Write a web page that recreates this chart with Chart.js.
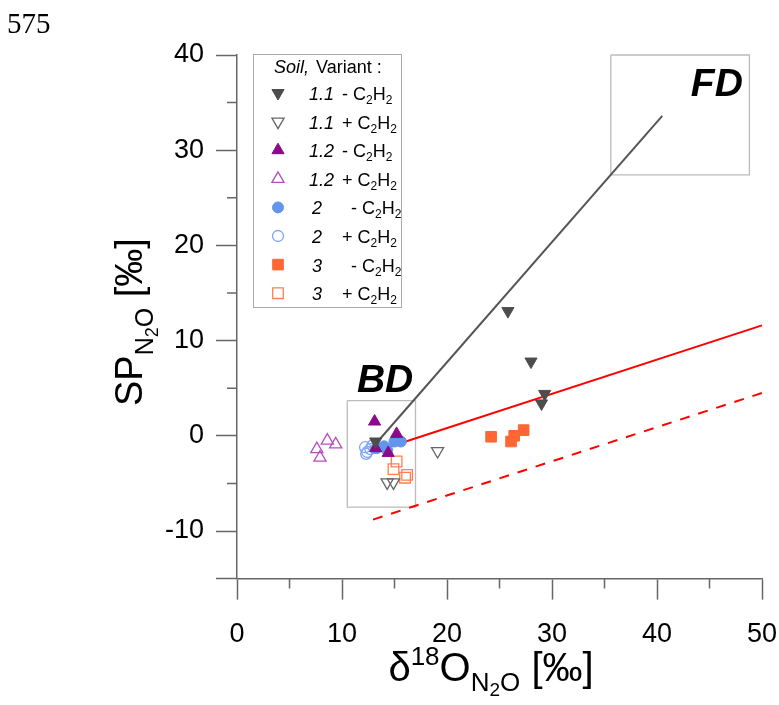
<!DOCTYPE html>
<html>
<head>
<meta charset="utf-8">
<script src="https://cdn.jsdelivr.net/npm/chart.js@4.4.1/dist/chart.umd.min.js"></script>
<style>
  html, body { margin: 0; padding: 0; background: #fff; }
</style>
</head>
<body>
<canvas id="isoChart" width="779" height="705"></canvas>
<script>
// delta18O-N2O (x) vs SP-N2O (y), one array per soil / variant
const s11Minus = [[25.8, 13.1], [28.0, 7.8], [29.3, 4.4], [29.0, 3.4], [13.2, -0.6]];
const s11Plus = [[19.1, -1.6], [14.3, -4.9], [14.9, -4.9]];
const s12Minus = [[13.1, 1.5], [15.2, 0.2], [13.2, -1.3], [14.4, -1.8]];
const s12Plus = [[8.6, -0.5], [9.4, -0.9], [7.6, -1.4], [7.9, -2.3]];
const s2Minus = [[15.0, -0.6], [15.6, -0.6], [13.3, -1.3], [14.3, -1.5], [14.0, -1.1]];
const s2Plus = [[12.2, -1.2], [12.4, -1.7], [12.7, -1.4], [12.9, -1.0], [12.3, -1.9]];
const s3Minus = [[24.2, -0.1], [26.1, -0.6], [26.4, 0.0], [27.3, 0.6]];
const s3Plus = [[15.2, -2.7], [14.9, -3.5], [16.2, -4.1], [16.0, -4.4]];

// reference lines and end-member boxes
const fdLine = [[13.4, -0.6], [40.5, 33.6]];
const redLine = [[14.1, -1.3], [50, 11.6]];
const redDashed = [[12.95, -8.8], [50, 4.5]];
const bdBox = [[10.5, 3.7], [17.0, 3.7], [17.0, -7.5], [10.5, -7.5], [10.5, 3.7]];
const fdBox = [[35.6, 40.0], [48.8, 40.0], [48.8, 27.4], [35.6, 27.4], [35.6, 40.0]];
const boxLabels = ['BD', 'FD'];
const boxLabelPos = [[14.1, 4.6], [45.7, 35.7]];

const soilNames = ['1.1', '1.1', '1.2', '1.2', '2', '2', '3', '3'];
const variantSigns = ['-', '+', '-', '+', '-', '+', '-', '+'];

const xTicks = [0, 10, 20, 30, 40, 50];
const yTicks = [-10, 0, 10, 20, 30, 40];

const FONT = '"Liberation Sans", Arial, Helvetica, sans-serif';
const axisColor = '#666';
const pts = arr => arr.map(([x, y]) => ({ x, y }));

function markerSet(label, data, shape, color, filled, rot) {
  return {
    label, data: pts(data),
    pointStyle: shape,
    pointRotation: rot || 0,
    pointRadius: shape === 'circle' ? 5.5 : (shape === 'rect' ? 7.5 : 7),
    pointBorderWidth: filled ? 1 : 1.3,
    borderColor: color,
    pointBorderColor: color,
    backgroundColor: filled ? color : 'rgba(0,0,0,0)',
    pointBackgroundColor: filled ? color : 'rgba(0,0,0,0)',
    showLine: false
  };
}
function lineSet(data, color, width, dash) {
  return {
    data: pts(data), showLine: true, pointRadius: 0,
    borderColor: color, borderWidth: width, borderDash: dash || [],
    fill: false, clip: false
  };
}

const markerSets = [
  markerSet('1.1 -', s11Minus, 'triangle', '#4d4d4d', true, 180),
  markerSet('1.1 +', s11Plus, 'triangle', '#666', false, 180),
  markerSet('1.2 -', s12Minus, 'triangle', '#8a0a8a', true, 0),
  markerSet('1.2 +', s12Plus, 'triangle', '#b54fbf', false, 0),
  markerSet('2 -', s2Minus, 'circle', '#6495ed', true, 0),
  markerSet('2 +', s2Plus, 'circle', '#7ea7f2', false, 0),
  markerSet('3 -', s3Minus, 'rect', '#ff6633', true, 0),
  markerSet('3 +', s3Plus, 'rect', '#ff7f50', false, 0)
];

// draw a run of text pieces (for sub/superscripts)
function drawRuns(ctx, runs, x, y, measureOnly) {
  let w = 0;
  runs.forEach(r => {
    ctx.font = (r.style || '') + ' ' + r.size + 'px ' + (r.family || FONT);
    if (!measureOnly) ctx.fillText(r.t, x + w, y + (r.dy || 0));
    w += ctx.measureText(r.t).width;
  });
  return w;
}

function drawMarker(ctx, ds, x, y) {
  const r = ds.pointRadius;
  ctx.save();
  ctx.translate(x, y);
  ctx.rotate(ds.pointRotation * Math.PI / 180);
  ctx.beginPath();
  if (ds.pointStyle === 'circle') {
    ctx.arc(0, 0, r, 0, Math.PI * 2);
  } else if (ds.pointStyle === 'rect') {
    const s = Math.SQRT1_2 * r;
    ctx.rect(-s, -s, 2 * s, 2 * s);
  } else {
    ctx.moveTo(0, -r);
    ctx.lineTo(0.866 * r, 0.5 * r);
    ctx.lineTo(-0.866 * r, 0.5 * r);
    ctx.closePath();
  }
  ctx.fillStyle = ds.pointBackgroundColor;
  ctx.fill();
  ctx.lineWidth = ds.pointBorderWidth;
  ctx.strokeStyle = ds.pointBorderColor;
  ctx.stroke();
  ctx.restore();
}

const overlay = {
  id: 'overlay',
  afterDraw(chart) {
    const ctx = chart.ctx;
    const xs = chart.scales.x, ys = chart.scales.y;
    const area = chart.chartArea;
    ctx.save();

    // minor ticks
    ctx.strokeStyle = axisColor;
    ctx.lineWidth = 1.5;
    ctx.beginPath();
    for (let v = 5; v < 50; v += 10) {
      const px = xs.getPixelForValue(v);
      ctx.moveTo(px, area.bottom); ctx.lineTo(px, area.bottom + 10);
    }
    for (let v = -5; v < 40; v += 10) {
      const py = ys.getPixelForValue(v);
      ctx.moveTo(area.left - 10, py); ctx.lineTo(area.left, py);
    }
    ctx.stroke();

    ctx.fillStyle = '#000';
    ctx.textBaseline = 'alphabetic';

    // x axis title
    const xRuns = [
      { t: 'δ', size: 40 }, { t: '18', size: 26, dy: -16 }, { t: 'O', size: 40 },
      { t: 'N', size: 26, dy: 10 }, { t: '2', size: 19, dy: 15 }, { t: 'O', size: 26, dy: 10 },
      { t: ' [‰]', size: 40 }
    ];
    const xw = drawRuns(ctx, xRuns, 0, 0, true);
    drawRuns(ctx, xRuns, 491 - xw / 2, 681);

    // y axis title
    const yRuns = [
      { t: 'SP', size: 38 }, { t: 'N', size: 25, dy: 11 }, { t: '2', size: 18, dy: 16 },
      { t: 'O', size: 25, dy: 11 }, { t: ' [‰]', size: 38 }
    ];
    ctx.save();
    ctx.translate(142, 406);
    ctx.rotate(-Math.PI / 2);
    drawRuns(ctx, yRuns, 0, 0);
    ctx.restore();

    // BD / FD labels
    ctx.font = 'italic bold 39px ' + FONT;
    ctx.textAlign = 'center';
    boxLabels.forEach((t, i) => {
      ctx.fillText(t, xs.getPixelForValue(boxLabelPos[i][0]), ys.getPixelForValue(boxLabelPos[i][1]));
    });
    ctx.textAlign = 'left';

    // page number
    ctx.font = '29px "Liberation Serif", "Times New Roman", serif';
    ctx.fillText('575', 7, 33);

    // legend
    ctx.fillStyle = '#fff';
    ctx.fillRect(254, 55, 147, 252);
    ctx.strokeStyle = '#aaa';
    ctx.lineWidth = 1;
    ctx.strokeRect(253.5, 54.5, 148, 253);
    ctx.fillStyle = '#000';
    drawRuns(ctx, [{ t: 'Soil,', size: 18, style: 'italic' }], 274, 73);
    drawRuns(ctx, [{ t: 'Variant :', size: 18 }], 316, 73);
    markerSets.forEach((ds, i) => {
      const cy = 93 + i * 28.6;
      drawMarker(ctx, ds, 278, cy);
      ctx.fillStyle = '#000';
      drawRuns(ctx, [{ t: soilNames[i], size: 18, style: 'italic' }], soilNames[i].length > 1 ? 309 : 312, cy + 7);
      const sx = variantSigns[i] === '+' ? 342 : (soilNames[i].length > 1 ? 342 : 351);
      drawRuns(ctx, [
        { t: variantSigns[i] + ' C', size: 18 }, { t: '2', size: 12, dy: 4 },
        { t: 'H', size: 18 }, { t: '2', size: 12, dy: 4 }
      ], sx, cy + 7);
    });
    ctx.restore();
  }
};

new Chart(document.getElementById('isoChart').getContext('2d'), {
  type: 'scatter',
  data: {
    datasets: [
      ...markerSets,
      lineSet(fdLine, '#555', 2),
      lineSet(redLine, '#ff0000', 2),
      lineSet(redDashed, '#ff0000', 2, [10, 9]),
      lineSet(bdBox, '#bbb', 1.3),
      lineSet(fdBox, '#bbb', 1.3)
    ]
  },
  options: {
    responsive: false,
    animation: false,
    events: [],
    layout: { padding: { left: 153, right: 17, top: 55, bottom: 35 } },
    plugins: { legend: { display: false }, tooltip: { enabled: false } },
    scales: {
      x: {
        type: 'linear', min: 0, max: 50,
        afterFit: s => { s.paddingLeft = 0; s.paddingRight = 0; },
        border: { color: axisColor, width: 1.5 },
        grid: { drawOnChartArea: false, tickLength: 21, tickWidth: 1.5,
          tickColor: c => c.tick && c.tick.value % 10 === 0 ? axisColor : 'rgba(0,0,0,0)' },
        ticks: { stepSize: 5, padding: 19, color: '#000', font: { size: 27, family: FONT },
          maxRotation: 0,
          callback: v => xTicks.includes(v) ? String(v) : '' }
      },
      y: {
        type: 'linear', min: -15, max: 40,
        border: { color: axisColor, width: 1.5 },
        grid: { drawOnChartArea: false, tickLength: 21, tickWidth: 1.5,
          tickColor: c => c.tick && (c.tick.value % 10 === 0 || c.tick.value === -15) ? axisColor : 'rgba(0,0,0,0)' },
        ticks: { stepSize: 5, padding: 12, color: '#000', font: { size: 27, family: FONT },
          callback: v => yTicks.includes(v) ? String(v) : '' }
      }
    }
  },
  plugins: [overlay]
});
</script>
</body>
</html>
